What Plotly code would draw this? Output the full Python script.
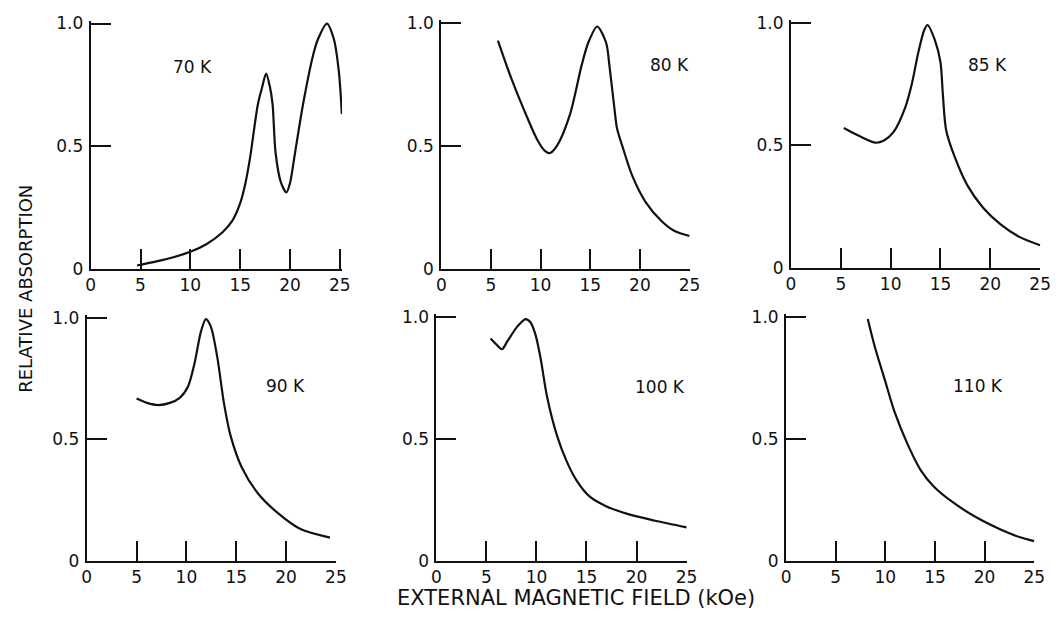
import plotly.graph_objects as go

# ---------------- data ----------------
temps = ["70 K", "80 K", "85 K", "90 K", "100 K", "110 K"]

x70 = [4.65, 6.6, 8.3, 10.0, 11.6, 13.2, 14.2, 15.05, 15.55, 16.0, 16.77, 17.2, 17.6, 18.0, 18.25, 18.55, 19.1, 19.64, 20.0, 20.5, 21.3, 22.3, 22.8, 23.7, 24.4, 24.9, 25.2]
y70 = [0.013, 0.03, 0.047, 0.069, 0.10, 0.148, 0.195, 0.274, 0.354, 0.455, 0.67, 0.74, 0.796, 0.738, 0.67, 0.472, 0.35, 0.311, 0.35, 0.472, 0.67, 0.869, 0.936, 1.0, 0.936, 0.803, 0.63]

x80 = [5.7, 7.05, 8.37, 9.69, 10.4, 10.94, 11.66, 12.97, 14.13, 14.8, 15.7, 16.6, 16.93, 17.5, 17.7, 18.25, 19.24, 20.56, 22.2, 23.5, 25.0]
y80 = [0.927, 0.773, 0.641, 0.522, 0.48, 0.47, 0.50, 0.628, 0.826, 0.918, 0.984, 0.918, 0.826, 0.628, 0.57, 0.496, 0.377, 0.272, 0.193, 0.153, 0.133]

x85 = [5.3, 6.86, 8.5, 9.33, 10.3, 11.46, 12.1, 12.77, 13.37, 13.7, 14.42, 15.0, 15.24, 15.57, 16.4, 17.7, 19.3, 21.0, 22.96, 25.0]
y85 = [0.57, 0.537, 0.51, 0.519, 0.554, 0.653, 0.745, 0.877, 0.97, 0.99, 0.93, 0.838, 0.706, 0.561, 0.455, 0.336, 0.244, 0.178, 0.125, 0.092]

x90 = [5.0, 6.04, 7.19, 8.34, 9.33, 10.15, 10.8, 11.46, 11.95, 12.45, 13.1, 13.76, 14.42, 15.57, 17.2, 19.18, 21.5, 24.4]
y90 = [0.669, 0.651, 0.642, 0.651, 0.672, 0.718, 0.812, 0.946, 0.997, 0.966, 0.839, 0.651, 0.517, 0.383, 0.276, 0.196, 0.129, 0.095]

x100 = [5.41, 6.13, 6.56, 7.11, 8.1, 8.92, 9.4, 9.9, 10.4, 11.05, 12.03, 13.0, 14.0, 15.3, 16.95, 19.25, 21.87, 25.0]
y100 = [0.913, 0.883, 0.869, 0.903, 0.963, 0.993, 0.98, 0.929, 0.835, 0.676, 0.517, 0.41, 0.33, 0.264, 0.224, 0.19, 0.164, 0.137]

x110 = [8.23, 8.96, 9.95, 10.94, 12.26, 13.59, 14.9, 16.9, 19.2, 21.5, 23.5, 25.0]
y110 = [0.993, 0.876, 0.743, 0.61, 0.477, 0.37, 0.304, 0.237, 0.177, 0.13, 0.097, 0.08]

xs = [x70, x80, x85, x90, x100, x110]
ys = [y70, y80, y85, y90, y100, y110]

x_ticks = [0, 5, 10, 15, 20, 25]
x_tick_text = ["0", "5", "10", "15", "20", "25"]
y_ticks = [0, 0.5, 1.0]
y_tick_text = ["0", "0.5", "1.0"]

x_title = "EXTERNAL MAGNETIC FIELD (kOe)"
y_title = "RELATIVE ABSORPTION"

# ---------------- layout geometry (pixels) ----------------
W, H = 1061, 629
panels_px = [  # x0, x1 (x=0..25), ytop (y=1), ybottom (y=0)
    (87, 340, 17, 269),
    (443, 695, 16, 269),
    (798, 1051, 16, 268),
    (83, 336, 320, 569),
    (438, 692, 319, 569),
    (793, 1045, 319, 569),
]
label_px = [(190, 62), (675, 60), (998, 60), (285, 390), (665, 391), (988, 390)]
XMAXES = [25.22, 25.02, 25.02, 25.02, 25.02, 25.02]
YMAX = 1.012

FONT = "DejaVu Sans"
INK = "#111111"
fig = go.Figure()
layout = dict(
    width=W, height=H,
    margin=dict(l=0, r=0, t=0, b=0),
    paper_bgcolor="white", plot_bgcolor="white",
    showlegend=False,
    font=dict(family=FONT, color=INK, size=17),
    annotations=[],
)

for i in range(6):
    n = "" if i == 0 else str(i + 1)
    x0, x1, yt, yb = panels_px[i]
    xmax = XMAXES[i]
    x1e = x0 + (x1 - x0) * xmax / 25.0
    yte = yb - (yb - yt) * YMAX
    fig.add_trace(go.Scatter(
        x=xs[i], y=ys[i], mode="lines",
        line=dict(color=INK, width=2.2, shape="spline", smoothing=0.8),
        xaxis="x" + n, yaxis="y" + n, hoverinfo="skip",
    ))
    layout["xaxis" + n] = dict(
        domain=[x0 / W, x1e / W], anchor="y" + n, range=[0, xmax],
        showgrid=False, zeroline=False, showline=True, linecolor=INK, linewidth=2,
        ticks="inside", ticklen=20, tickwidth=2, tickcolor=INK,
        tickvals=x_ticks, ticktext=x_tick_text, tickfont=dict(size=17),
        ticklabelstandoff=0, fixedrange=True,
    )
    layout["yaxis" + n] = dict(
        domain=[1 - yb / H, 1 - yte / H], anchor="x" + n, range=[0, YMAX],
        showgrid=False, zeroline=False, showline=True, linecolor=INK, linewidth=2,
        ticks="inside", ticklen=20, tickwidth=2, tickcolor=INK,
        tickvals=y_ticks, ticktext=y_tick_text, tickfont=dict(size=17),
        ticklabelstandoff=2, fixedrange=True,
    )
    lx, ly = label_px[i]
    layout["annotations"].append(dict(
        text=temps[i], x=lx / W, y=1 - ly / H, xref="paper", yref="paper",
        showarrow=False, font=dict(size=17, family=FONT, color=INK),
        xanchor="center", yanchor="middle",
    ))

layout["annotations"].append(dict(
    text=x_title, x=580 / W, y=1 - 607 / H, xref="paper", yref="paper",
    showarrow=False, font=dict(size=21, family=FONT, color=INK),
    xanchor="center", yanchor="middle",
))
layout["annotations"].append(dict(
    text=y_title, x=20 / W, y=1 - 290 / H, xref="paper", yref="paper",
    showarrow=False, textangle=-90, font=dict(size=18, family=FONT, color=INK),
    xanchor="center", yanchor="middle",
))

fig.update_layout(**layout)
fig.write_html("out.html", config={"displayModeBar": False},
               post_script="document.body.style.margin='0px';")
